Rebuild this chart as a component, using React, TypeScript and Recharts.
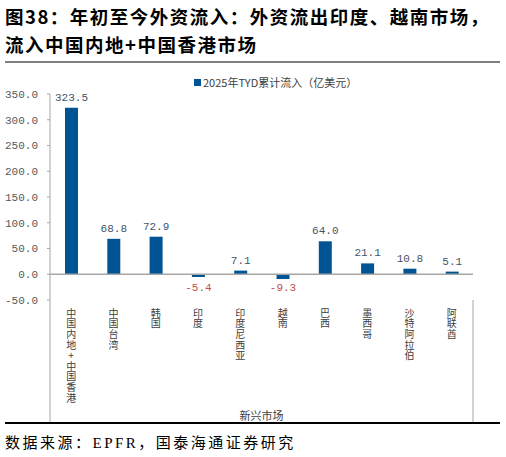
import React from 'react';
import { BarChart, Bar, XAxis, YAxis, ReferenceLine, LabelList, Legend } from 'recharts';

const markets = ['中国内地+中国香港', '中国台湾', '韩国', '印度', '印度尼西亚', '越南', '巴西', '墨西哥', '沙特阿拉伯', '阿联酋'];
const inflows = [323.5, 68.8, 72.9, -5.4, 7.1, -9.3, 64.0, 21.1, 10.8, 5.1];
const yTicks = [-50, 0, 50, 100, 150, 200, 250, 300, 350];
const seriesName = '2025年TYD累计流入（亿美元）';
const groupName = '新兴市场';

const BAR = '#005493';
const GRID = '#A6A6A6';
const MONO = '"Liberation Mono", "DejaVu Sans Mono", monospace';
const CJK = '"Noto Sans CJK SC", sans-serif';

const chartData = markets.map((name, i) => ({ name, value: inflows[i] }));

// category names run top to bottom as vertical text
const VerticalTick = (props: any) => {
  const { x, y, payload } = props;
  return (
    <text
      x={x}
      y={y}
      fontSize={10}
      fill="#404040"
      fontFamily={CJK}
      style={{ writingMode: 'vertical-rl', textOrientation: 'upright', letterSpacing: 0.6 }}
    >
      {payload.value}
    </text>
  );
};

// box lines and group caption under the categories
const GroupLabel = (props: any) => {
  const { x, y, width, height } = props.viewBox;
  return (
    <g>
      <line x1={x} y1={y} x2={x} y2={y + height - 3} stroke={GRID} />
      <line x1={x + width} y1={y} x2={x + width} y2={y + height - 3} stroke={GRID} />
      <text x={x + width / 2} y={y + height - 5} textAnchor="middle" fontSize={11} fill="#404040" fontFamily={CJK}>
        {groupName}
      </text>
    </g>
  );
};

const ValueLabel = (props: any) => {
  const { x, y, width, height, value } = props;
  const neg = value < 0;
  const cx = x + width / 2;
  const ty = neg ? y + height + 17 : y - 7;
  return (
    <text x={cx} y={ty} textAnchor="middle" fontSize={11} fontFamily={MONO} fill={neg ? '#C0504D' : '#44546A'}>
      {Number(value).toFixed(1)}
    </text>
  );
};

const LegendContent = () => (
  <div style={{ display: 'flex', alignItems: 'center', fontFamily: CJK, fontSize: 11, color: '#404040' }}>
    <span style={{ width: 7, height: 7, background: BAR, display: 'inline-block', marginRight: 2 }} />
    {seriesName}
  </div>
);

export default function App() {
  return (
    <div style={{ position: 'absolute', left: 0, top: 0, width: 506, height: 457, background: '#fff' }}>
      <div
        style={{
          position: 'absolute',
          left: 5,
          top: 2,
          width: 501,
          fontFamily: CJK,
          fontWeight: 700,
          fontSize: 18.5,
          letterSpacing: 1.5,
          lineHeight: '28px',
          color: '#000',
          whiteSpace: 'nowrap',
        }}
      >
        图38：年初至今外资流入：外资流出印度、越南市场，
        <br />
        流入中国内地+中国香港市场
      </div>
      <div style={{ position: 'absolute', left: 5, top: 61, width: 495, height: 2, background: '#7F7F7F' }} />

      <div style={{ position: 'absolute', left: 0, top: 0 }}>
        <BarChart width={506} height={430} data={chartData} margin={{ top: 78, right: 33, left: 0, bottom: 5 }}>
          <YAxis
            width={50}
            domain={[-50, 350]}
            ticks={yTicks}
            interval={0}
            tickFormatter={(v: number) => v.toFixed(1)}
            axisLine={{ stroke: GRID }}
            tickLine={{ stroke: GRID }}
            tickSize={3}
            tickMargin={9}
            tick={{ fontSize: 11, fill: '#595959', fontFamily: MONO }}
          />
          <XAxis
            dataKey="name"
            height={125}
            axisLine={false}
            tickLine={false}
            interval={0}
            tick={<VerticalTick />}
            label={<GroupLabel />}
          />
          <Legend
            verticalAlign="top"
            content={<LegendContent />}
            wrapperStyle={{ position: 'absolute', top: 74, left: 194, width: 'auto' }}
          />
          <ReferenceLine y={0} stroke={GRID} strokeWidth={1.5} />
          <Bar dataKey="value" name={seriesName} fill={BAR} barSize={13} isAnimationActive={false}>
            <LabelList dataKey="value" content={<ValueLabel />} />
          </Bar>
        </BarChart>
      </div>

      <div style={{ position: 'absolute', left: 5, top: 422, width: 495, height: 1.5, background: '#000' }} />
      <div
        style={{
          position: 'absolute',
          left: 5,
          top: 431,
          fontFamily: '"Liberation Serif", "Noto Sans CJK SC", serif',
          fontSize: 15,
          letterSpacing: 2.5,
          color: '#000',
          whiteSpace: 'nowrap',
        }}
      >
        数据来源：EPFR，国泰海通证券研究
      </div>
    </div>
  );
}
